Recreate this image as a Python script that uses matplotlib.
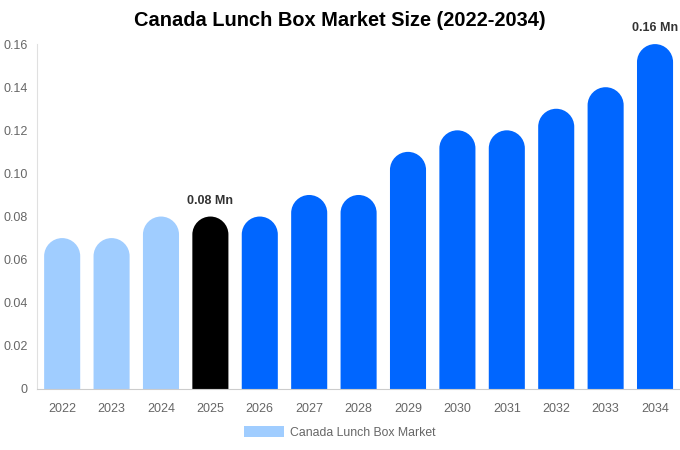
import matplotlib
matplotlib.use("Agg")
import matplotlib.pyplot as plt
from matplotlib.patches import Patch, PathPatch
from matplotlib.path import Path

plt.rcParams["font.family"] = ["Liberation Sans", "DejaVu Sans"]

years = ["2022", "2023", "2024", "2025", "2026", "2027", "2028",
         "2029", "2030", "2031", "2032", "2033", "2034"]
values = [0.07, 0.07, 0.08, 0.08, 0.08, 0.09, 0.09, 0.11, 0.12, 0.12, 0.13, 0.14, 0.16]
colors = ["#a0cdff"] * 3 + ["#000000"] + ["#0066ff"] * 9
labelled = {"2025": "0.08 Mn", "2034": "0.16 Mn"}

fig = plt.figure(figsize=(6.8, 4.5), dpi=100)
ax = fig.add_axes([0.0551, 0.1356, 0.9445, 0.7664])
ax.set_xlim(-0.5, len(years) - 0.5)
ax.set_ylim(0, 0.16)

barWidth = 0.73
# radius of the rounded top, in y data units (half the bar width in pixels)
axBox = ax.get_window_extent()
pxPerX = axBox.width / len(years)
pxPerY = axBox.height / 0.16
radiusY = barWidth * pxPerX / 2 / pxPerY
k = 0.5523


def roundedBar(xc, top, c):
    hw = barWidth / 2
    base = top - radiusY
    verts = [
        (xc - hw, 0), (xc - hw, base),
        (xc - hw, base + k * radiusY), (xc - k * hw, top), (xc, top),
        (xc + k * hw, top), (xc + hw, base + k * radiusY), (xc + hw, base),
        (xc + hw, 0), (xc - hw, 0),
    ]
    codes = [Path.MOVETO, Path.LINETO,
             Path.CURVE4, Path.CURVE4, Path.CURVE4,
             Path.CURVE4, Path.CURVE4, Path.CURVE4,
             Path.LINETO, Path.CLOSEPOLY]
    ax.add_patch(PathPatch(Path(verts, codes), facecolor=c, edgecolor="none"))


for i, (v, c) in enumerate(zip(values, colors)):
    roundedBar(i, v, c)
    if years[i] in labelled:
        ax.text(i, v + 0.0045, labelled[years[i]], ha="center", va="bottom",
                fontsize=9, fontweight="bold", color="#333333")

ax.set_xticks(range(len(years)))
ax.set_xticklabels(years)
yticks = [0, 0.02, 0.04, 0.06, 0.08, 0.10, 0.12, 0.14, 0.16]
ax.set_yticks(yticks)
ax.set_yticklabels(["0"] + ["%.2f" % t for t in yticks[1:]])
ax.tick_params(axis="both", length=0, labelsize=9, labelcolor="#666666")
ax.tick_params(axis="x", pad=10)
ax.tick_params(axis="y", pad=7)

for side in ["top", "right"]:
    ax.spines[side].set_visible(False)
ax.spines["left"].set_color("#e0e0e0")
ax.spines["bottom"].set_color("#cccccc")

fig.text(0.5, 1 - 21 / 450, "Canada Lunch Box Market Size (2022-2034)",
         ha="center", va="center", fontsize=14.4, fontweight="bold")

fig.legend(handles=[Patch(facecolor="#a0cdff", label="Canada Lunch Box Market")],
           loc="lower center", bbox_to_anchor=(0.5, 0.0), frameon=False,
           fontsize=8.8, labelcolor="#666666", handlelength=3.3, handleheight=0.96,
           handletextpad=0.5)

fig.savefig("out.png", dpi=100)
